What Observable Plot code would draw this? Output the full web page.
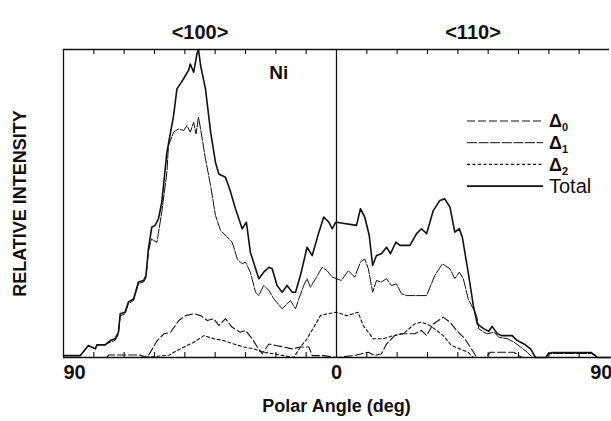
<!DOCTYPE html>
<html><head><meta charset="utf-8">
<script src="https://cdn.jsdelivr.net/npm/d3@7"></script>
<script src="https://cdn.jsdelivr.net/npm/@observablehq/plot@0.6"></script>
<style>
body{margin:0;background:#fff;}
#wrap{position:relative;width:611px;height:421px;overflow:hidden;background:#fff;}
#legend{position:absolute;left:0;top:0;}
</style></head><body><div id="wrap"></div>
<script>
// ---- data: [polar angle (deg), relative intensity] ----
const totalCurve = [[-90,0.6],[-84.5,0.6],[-81.8,3.9],[-79.5,2.8],[-79,4.1],[-76.3,4.1],[-74.6,5.5],[-73,6.1],[-71.9,8.2],[-71.3,14.2],[-69.7,14.7],[-68.6,18],[-66.9,19],[-65.3,24.5],[-63.6,25],[-62.8,26.6],[-62,35.3],[-60.9,42.3],[-59.8,42.9],[-58.7,45],[-57.6,50.4],[-55.9,66.7],[-53.7,78.6],[-52.6,87.2],[-50.4,90.5],[-48.8,93.2],[-48.2,95.3],[-47.1,92.6],[-46,98.6],[-45.5,100],[-44.8,94.8],[-43.2,87.2],[-41.5,73.2],[-39.9,63.4],[-38.8,59.6],[-36.6,58.5],[-34.9,53.7],[-33.3,48.3],[-31.1,41.8],[-29.7,43.9],[-28.4,34.2],[-25.6,25.6],[-24,27.7],[-22.3,29.3],[-21.2,28.8],[-19.6,23.4],[-17.9,21.2],[-16.3,23.4],[-14.6,21.2],[-13.5,21.2],[-11.9,26.6],[-9.7,35.8],[-8,33.1],[-5.8,40.7],[-4.2,45.6],[-2.5,43.9],[-1.4,41.8],[-0.3,43.9],[0,43.9],[6.6,42.9],[7.9,48.3],[9.3,45.6],[10.8,39.6],[11.9,29.9],[13.2,33.1],[14.8,33.7],[16.5,35.8],[17.8,33.7],[19.6,37.5],[20.9,36.4],[24.2,36.4],[26.4,40.2],[28,41.8],[29.7,40.2],[31.9,47.7],[34.1,51],[35.7,51.5],[37.4,48.8],[39,40.7],[40.5,41.8],[41.5,39],[43.4,27.7],[45.1,16.9],[46.4,10.9],[48.6,9.3],[50.2,8.5],[51.3,10.1],[53,7.7],[54.6,7.1],[57.9,7.1],[59.6,5.5],[61.8,4.4],[64,2.8],[65.6,0],[69,0],[69.8,1.2],[71,1.6],[84,1.6],[85.5,0.5],[86,0],[90,0]];
const delta1Curve = [[-90,0.6],[-84.5,0.6],[-81.8,3.9],[-79.5,2.8],[-79,4.1],[-76.3,4.1],[-74.6,5],[-73,5.5],[-71.9,7.5],[-71.3,13.5],[-69.7,14.2],[-68.6,17.5],[-66.9,18.5],[-65.3,24],[-63.6,24.5],[-62.8,26],[-62,34.5],[-61,38.5],[-60.3,38],[-59.2,37.4],[-57.6,47.2],[-55.9,60.2],[-55.4,68.8],[-53.7,73.2],[-52.1,74.2],[-50.4,73.7],[-49.3,75.3],[-48.2,73.2],[-47.1,76.4],[-46.3,72.6],[-45.5,78],[-44.8,74.2],[-43.2,64.5],[-41.5,55.8],[-39.9,46.1],[-38.2,41.2],[-36,39.1],[-34.4,37.4],[-32.7,32],[-31.1,30.4],[-30,31],[-28.4,27.7],[-26.7,21.2],[-25.6,20.1],[-24,23.4],[-22.3,21.8],[-20.7,19.1],[-17.9,15.8],[-16.3,17.4],[-15.2,18.5],[-13.5,15.8],[-12.4,19.1],[-10.8,23.4],[-9.7,25.6],[-8.6,22.8],[-6.9,25.6],[-4.7,29.3],[-3.1,28.2],[-1.4,26.1],[0,25.6],[1.6,25],[3.9,28.2],[6,26.1],[7.9,31],[9.3,32],[10.5,28.8],[11.9,21.2],[13.2,25],[14.8,24.5],[16.5,25.6],[18.1,23.4],[19.8,23.9],[21.4,20.7],[23.1,20.1],[29.7,20.1],[32.4,26.6],[34.9,30.4],[37.4,28.8],[39,25.6],[40.5,27.7],[41.8,25.6],[43.4,19.1],[45.1,15.8],[46.2,13.6],[46.9,9.3],[48.6,8.2],[49.7,7.7],[51.9,8.2],[53.5,6.6],[56.3,6.1],[58.5,5],[60.7,3.4],[62.9,1.7],[64.6,0],[69,0],[69.8,1],[71,1.3],[84,1.3],[85.5,0.4],[86,0],[90,0]];
const delta0Curve = [[-90,0],[-76,0],[-75,0.8],[-65,0.8],[-62.4,0],[-59.1,5.5],[-56.9,7.7],[-54.7,8.2],[-52,12],[-49.8,13.6],[-47,14.2],[-44.8,13.6],[-42.6,12],[-40.5,12.6],[-38.8,10.4],[-36.6,12.6],[-34.4,9.8],[-31.7,8.2],[-30,8.8],[-27.8,6.1],[-26.1,3.4],[-24.5,1.2],[-22.3,4.4],[-20.1,3.9],[-17.4,3.4],[-14.6,2.8],[-11.9,3.4],[-9.1,3.4],[-8,0.6],[-4.2,0.6],[0,0],[5.5,0.6],[10.5,1.7],[12.6,0.6],[14.8,1.2],[16.5,4.4],[19.2,7.1],[21.4,7.7],[25.8,7.7],[28,8.8],[29.7,7.1],[31.9,10.9],[35.2,13.1],[37.4,11.5],[39.6,8.8],[42.3,6.1],[44.5,2.8],[46.2,0],[49,0],[50.8,1.7],[58.4,1.7],[61.2,0],[90,0]];
const delta2Curve = [[-90,0],[-65,0],[-60,0.3],[-55,0.8],[-53.6,1.7],[-50.3,3.4],[-47,5],[-43.7,7.1],[-40.5,6.1],[-37.2,5.5],[-33.9,4.4],[-30.6,3.4],[-27.3,2.8],[-24,1.7],[-20.7,1.2],[-17.4,0.6],[-14.1,0],[-11.9,3.4],[-9.7,6.1],[-7.5,9.8],[-5.3,13.6],[-3.1,14.2],[0,14.7],[3.3,13.6],[7.1,14.7],[8.8,10.4],[12.1,6.1],[15.4,6.1],[18.7,7.1],[22,7.7],[25.8,10.9],[28,11.5],[30.8,10.4],[33,8.8],[35.2,7.1],[37.9,3.9],[40.7,2.8],[43.4,1.7],[45.1,0],[90,0]];

const xDomain = [-90, 90];
const yDomain = [0, 100];
const minorTicks = [-80,-70,-60,-50,-40,-30,-20,-10,10,20,30,40,50,60,70,80];
const tickValues = [-90, 0, 90];
const tickLabels = ["90", "0", "90"];
const directionLabels = [{x: -45, label: "<100>"}, {x: 45, label: "<110>"}];
const sampleLabel = [{x: -19, y: 92.5, label: "Ni"}];
const xTitle = "Polar Angle (deg)";
const yTitle = "RELATIVE INTENSITY";
const legendNames = [["Δ","0"],["Δ","1"],["Δ","2"],["Total",""]];
const legendDash = ["8,3", "10,1.6", "3,2.5", null];
const legendWidth = [1.1, 1.0, 1.1, 1.6];

// ---- layout ----
const W = 611, H = 421, mT = 49, mB = 64, mL = 63, mR = 2;
const plotH = H - mT - mB;
const ink = "#111";
const font = "'Liberation Sans', Arial, Helvetica, sans-serif";

const lineOpts = (dash, sw) => ({x: d => d[0], y: d => d[1], stroke: ink, strokeWidth: sw, strokeDasharray: dash, curve: "linear"});

const chart = Plot.plot({
  width: W, height: H, marginTop: mT, marginBottom: mB, marginLeft: mL, marginRight: mR,
  x: {domain: xDomain, axis: null},
  y: {domain: yDomain, axis: null},
  style: {fontFamily: font, background: "#fff", color: ink, overflow: "visible"},
  marks: [
    Plot.ruleY([yDomain[1]], {stroke: ink, strokeWidth: 1.3}),
    Plot.ruleY([yDomain[0]], {stroke: ink, strokeWidth: 1.4, insetRight: -4}),
    Plot.ruleX([xDomain[0]], {stroke: ink, strokeWidth: 1.3}),
    Plot.ruleX([0], {stroke: ink, strokeWidth: 1.3}),
    Plot.tickX(minorTicks, {x: d => d, stroke: ink, strokeWidth: 1.1, insetBottom: plotH - 5}),
    Plot.tickX(minorTicks, {x: d => d, stroke: ink, strokeWidth: 1.1, insetTop: plotH - 5}),
    Plot.line(delta0Curve, lineOpts(legendDash[0], legendWidth[0])),
    Plot.line(delta1Curve, lineOpts(legendDash[1], legendWidth[1])),
    Plot.line(delta2Curve, lineOpts(legendDash[2], legendWidth[2])),
    Plot.line(totalCurve, lineOpts(legendDash[3], legendWidth[3])),
    Plot.text([0], {x: tickValues[0], text: () => tickLabels[0], frameAnchor: "bottom", dy: 21, textAnchor: "start", fontSize: 20, fontWeight: "bold", fill: ink}),
    Plot.text([0], {x: tickValues[1], text: () => tickLabels[1], frameAnchor: "bottom", dy: 21, textAnchor: "middle", fontSize: 20, fontWeight: "bold", fill: ink}),
    Plot.text([0], {x: tickValues[2], text: () => tickLabels[2], frameAnchor: "bottom", dy: 21, dx: 3, textAnchor: "end", fontSize: 20, fontWeight: "bold", fill: ink}),
    Plot.text(directionLabels, {x: "x", text: "label", frameAnchor: "top", dy: -25, fontSize: 20, fontWeight: "bold", fill: ink}),
    Plot.text(sampleLabel, {x: "x", y: "y", text: "label", fontSize: 19, fontWeight: "bold", fill: ink}),
    Plot.text([xTitle], {text: d => d, frameAnchor: "bottom", dy: 54, textAnchor: "middle", fontSize: 18, fontWeight: "bold", fill: ink}),
    Plot.text([yTitle], {text: d => d, frameAnchor: "left", dx: -43, textAnchor: "middle", rotate: -90, fontSize: 18, fontWeight: "bold", fill: ink})
  ]
});
const wrap = document.getElementById("wrap");
wrap.appendChild(chart);

// ---- legend (drawn as overlay) ----
const lg = d3.select(wrap).append("svg").attr("id", "legend").attr("width", W).attr("height", H);
legendNames.forEach((nm, i) => {
  const yy = 121 + i * 21.7;
  lg.append("line").attr("x1", 467).attr("x2", 543).attr("y1", yy).attr("y2", yy)
    .attr("stroke", ink).attr("stroke-width", legendWidth[i]).attr("stroke-dasharray", legendDash[i]);
  const t = lg.append("text").attr("x", 549).attr("y", yy).attr("dy", "0.35em")
    .attr("font-family", font).attr("fill", ink);
  if (nm[1]) {
    t.attr("font-size", 18).attr("font-weight", "bold");
    t.append("tspan").text(nm[0]);
    t.append("tspan").attr("font-size", 11).attr("dy", "0.35em").text(nm[1]);
  } else {
    t.attr("font-size", 20).text(nm[0]);
  }
});
</script></body></html>
